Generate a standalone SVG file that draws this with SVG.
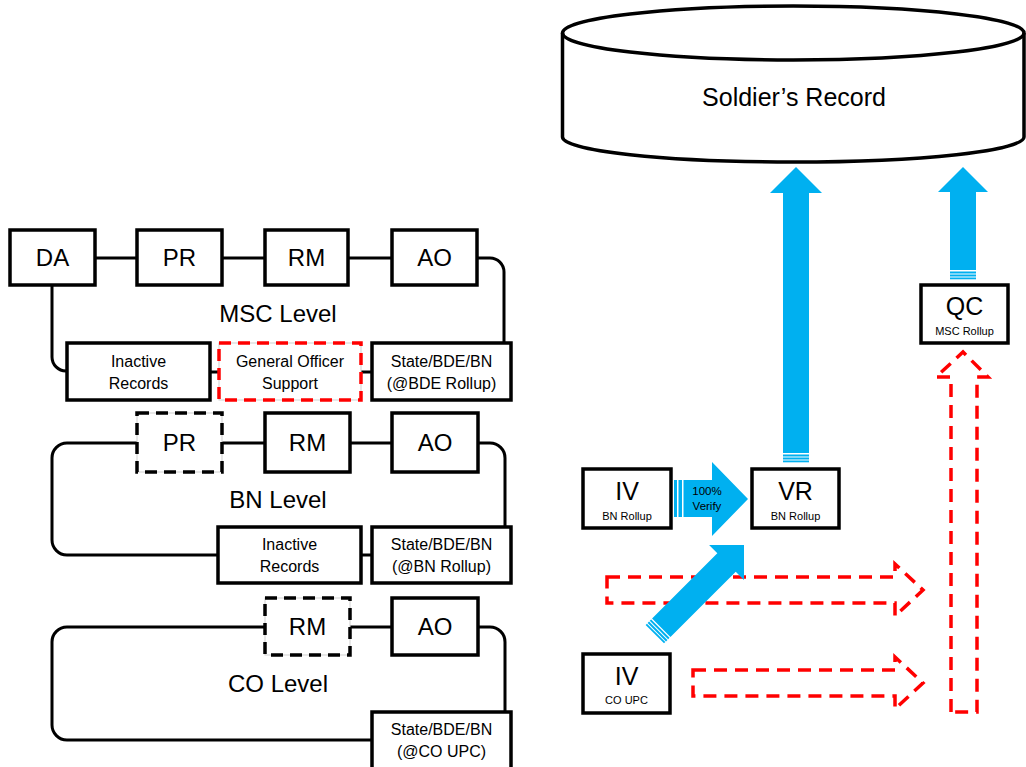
<svg xmlns="http://www.w3.org/2000/svg" width="1026" height="767" viewBox="0 0 1026 767">
  <style>
    .box { fill: #fff; stroke: #000; stroke-width: 3.5; }
    .ghost { fill: #fff; stroke: #cfcfcf; stroke-width: 1; }
    .dash { fill: none; stroke: #000; stroke-width: 3.5; stroke-dasharray: 12 7; }
    .rdash { fill: none; stroke: #f00; stroke-width: 3.5; stroke-dasharray: 12 7; }
    .wire { fill: none; stroke: #000; stroke-width: 3; }
    .flow { fill: #00b0f0; }
    .ghostflow { fill: none; stroke: #f00; stroke-width: 3.5; stroke-dasharray: 13 8; stroke-linejoin: miter; }
    text { font-family: "Liberation Sans", Arial, sans-serif; text-anchor: middle; fill: #000; }
    .t24 { font-size: 24px; }
    .t25 { font-size: 25px; }
    .t16 { font-size: 16px; }
    .t11 { font-size: 11px; }
    .tv { font-size: 11.5px; }
  </style>

  <!-- connectors between the unit boxes -->
  <g id="connectors">
    <!-- MSC level -->
    <path class="wire" d="M95,258 H137 M222,258 H265 M348,258 H392"/>
    <path class="wire" d="M477,258 H490 A14,14 0 0 1 504,272 V343"/>
    <path class="wire" d="M52,285 V357 A14,14 0 0 0 66,371 H67"/>
    <path class="wire" d="M210,372 H219 M361,372 H372"/>
    <!-- BN level -->
    <path class="wire" d="M222,443 H265 M350,443 H392"/>
    <path class="wire" d="M478,443 H490 A15,15 0 0 1 505,458 V527"/>
    <path class="wire" d="M137,443 H67 A15,15 0 0 0 52,458 V540 A15,15 0 0 0 67,555 H218"/>
    <path class="wire" d="M361,555 H372"/>
    <!-- CO level -->
    <path class="wire" d="M350,627 H392"/>
    <path class="wire" d="M478,627 H490 A15,15 0 0 1 505,642 V712"/>
    <path class="wire" d="M265,627 H67 A15,15 0 0 0 52,642 V725 A15,15 0 0 0 67,740 H372"/>
  </g>

  <!-- level captions -->
  <text class="t24" x="278" y="322">MSC Level</text>
  <text class="t24" x="278" y="508">BN Level</text>
  <text class="t24" x="278" y="692">CO Level</text>

  <!-- MSC level nodes -->
  <g id="msc-da"><rect class="box" x="10" y="230" width="85" height="55"/><text class="t24" x="52.5" y="266">DA</text></g>
  <g id="msc-pr"><rect class="box" x="137" y="230" width="85" height="55"/><text class="t24" x="179.5" y="266">PR</text></g>
  <g id="msc-rm"><rect class="box" x="265" y="230" width="83" height="55"/><text class="t24" x="306.5" y="266">RM</text></g>
  <g id="msc-ao"><rect class="box" x="392" y="230" width="85" height="55"/><text class="t24" x="434.5" y="266">AO</text></g>
  <g id="msc-inactive"><rect class="box" x="67" y="343" width="143" height="57"/><text class="t16" x="138.5" y="367">Inactive</text><text class="t16" x="138.5" y="389">Records</text></g>
  <g id="msc-gos"><rect class="ghost" x="219" y="343" width="142" height="57"/><rect class="rdash" x="219" y="343" width="142" height="57"/><text class="t16" x="290" y="367">General Officer</text><text class="t16" x="290" y="389">Support</text></g>
  <g id="msc-unit"><rect class="box" x="372" y="343" width="139" height="57"/><text class="t16" x="441.5" y="367">State/BDE/BN</text><text class="t16" x="441.5" y="389">(@BDE Rollup)</text></g>

  <!-- BN level nodes -->
  <g id="bn-pr"><rect class="ghost" x="137" y="413" width="85" height="59"/><rect class="dash" x="137" y="413" width="85" height="59"/><text class="t24" x="179.5" y="451">PR</text></g>
  <g id="bn-rm"><rect class="box" x="265" y="413" width="85" height="59"/><text class="t24" x="307.5" y="451">RM</text></g>
  <g id="bn-ao"><rect class="box" x="392" y="413" width="86" height="59"/><text class="t24" x="435" y="451">AO</text></g>
  <g id="bn-inactive"><rect class="box" x="218" y="527" width="143" height="56"/><text class="t16" x="289.5" y="550">Inactive</text><text class="t16" x="289.5" y="572">Records</text></g>
  <g id="bn-unit"><rect class="box" x="372" y="527" width="139" height="56"/><text class="t16" x="441.5" y="550">State/BDE/BN</text><text class="t16" x="441.5" y="572">(@BN Rollup)</text></g>

  <!-- CO level nodes -->
  <g id="co-rm"><rect class="ghost" x="265" y="598" width="85" height="57"/><rect class="dash" x="265" y="598" width="85" height="57"/><text class="t24" x="307.5" y="635">RM</text></g>
  <g id="co-ao"><rect class="box" x="392" y="598" width="86" height="57"/><text class="t24" x="435" y="635">AO</text></g>
  <g id="co-unit"><rect class="box" x="372" y="712" width="139" height="58"/><text class="t16" x="441.5" y="735">State/BDE/BN</text><text class="t16" x="441.5" y="757">(@CO UPC)</text></g>

  <!-- record store -->
  <g id="soldiers-record">
    <path class="box" d="M562.5,33 A230.75,27 0 0 1 1024,33 V137 A230.75,25 0 0 1 562.5,137 Z"/>
    <path class="wire" style="stroke-width:3.5" d="M562.5,33 A230.75,27 0 0 0 1024,33"/>
    <text class="t25" x="794" y="106">Soldier’s Record</text>
  </g>

  <!-- planned (dashed) flows -->
  <g id="planned-flows">
    <path class="ghostflow" d="M607,577 H895 V564 L923,590 L895,616 V603 H607 Z"/>
    <path class="ghostflow" d="M693,670 H895 V657 L923,683 L895,709 V696 H693 Z"/>
    <path class="ghostflow" d="M951,712 V377 H936 L963,352 L988,377 H977 V712 Z"/>
  </g>

  <!-- verification flows -->
  <g id="flows">
    <!-- VR up to the record -->
    <path class="flow" d="M796,167 L822,193 H809 V453 H783 V193 H770 Z"/>
    <rect class="flow" x="783" y="454.5" width="26" height="2"/>
    <rect class="flow" x="783" y="457.5" width="26" height="2"/>
    <rect class="flow" x="783" y="460.5" width="26" height="1.8"/>
    <!-- QC up to the record -->
    <path class="flow" d="M963,167 L988,192 H976 V270 H950 V192 H938 Z"/>
    <rect class="flow" x="950" y="271.5" width="26" height="2"/>
    <rect class="flow" x="950" y="274.5" width="26" height="2"/>
    <rect class="flow" x="950" y="277.5" width="26" height="1.8"/>
    <!-- IV (BN) to VR -->
    <rect class="flow" x="674" y="480" width="3" height="37"/>
    <rect class="flow" x="678.5" y="480" width="3.5" height="37"/>
    <path class="flow" d="M683.5,480 H712 V462 L748,499 L712,536 V517 H683.5 Z"/>
    <text class="tv" x="707" y="495">100%</text>
    <text class="tv" x="707" y="510">Verify</text>
    <!-- IV (CO) to VR -->
    <g transform="translate(744,545) rotate(45)">
      <path class="flow" d="M0,0 L24.7,24.7 H13 V117 H-13 V24.7 H-24.7 Z"/>
      <rect class="flow" x="-13" y="118.3" width="26" height="2"/>
      <rect class="flow" x="-13" y="121.3" width="26" height="2"/>
      <rect class="flow" x="-13" y="124.3" width="26" height="1.8"/>
    </g>
  </g>

  <!-- right-hand check points -->
  <g id="iv-bn"><rect class="box" x="583" y="469" width="88" height="59"/><text class="t25" x="627" y="500">IV</text><text class="t11" x="627" y="520">BN Rollup</text></g>
  <g id="vr-bn"><rect class="box" x="752" y="469" width="87" height="59"/><text class="t25" x="795.5" y="500">VR</text><text class="t11" x="795.5" y="520">BN Rollup</text></g>
  <g id="qc-msc"><rect class="box" x="921" y="285" width="87" height="58"/><text class="t25" x="964.5" y="315">QC</text><text class="t11" x="964.5" y="335">MSC Rollup</text></g>
  <g id="iv-co"><rect class="box" x="583" y="654" width="87" height="59"/><text class="t25" x="626.5" y="685">IV</text><text class="t11" x="626.5" y="704">CO UPC</text></g>
</svg>
